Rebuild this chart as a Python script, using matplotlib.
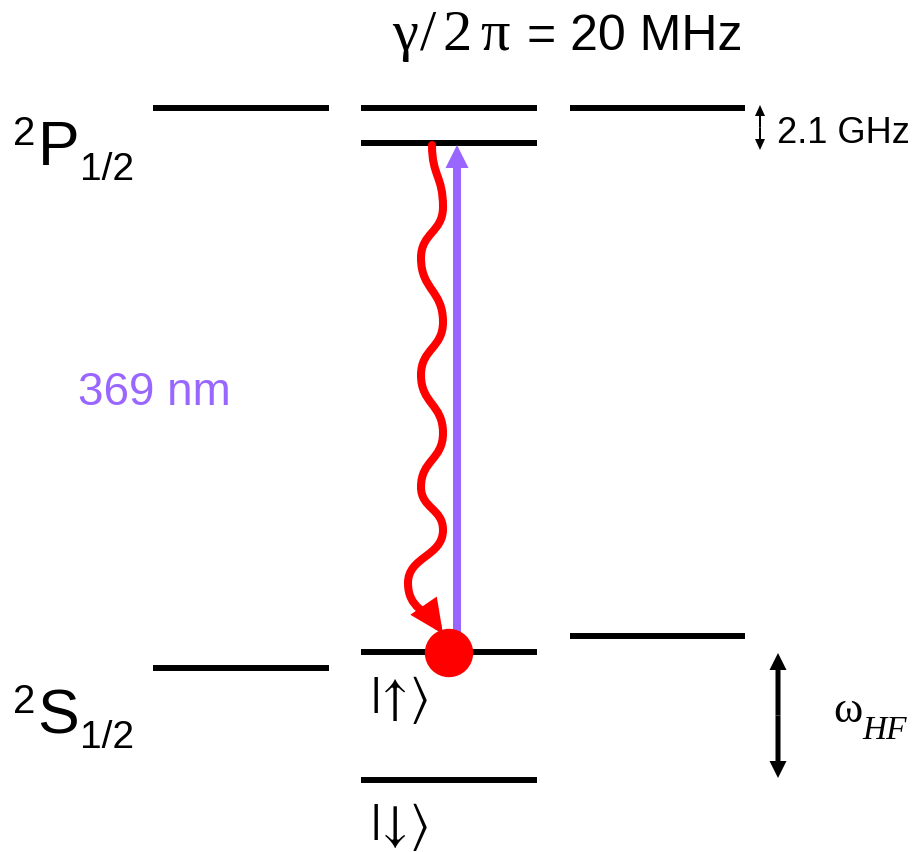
import numpy as np
import matplotlib.pyplot as plt
from matplotlib.path import Path
from matplotlib.patches import FancyArrowPatch, Circle

# level diagram in picture units (x right, y down)
col_names = ['left', 'mid', 'right']
col_x0 = [153, 361, 570]
col_x1 = [329, 537, 745]

level_col = [0, 1, 1, 2, 0, 1, 1, 2]
level_y = [108, 108, 143, 108, 668, 652, 780, 636]

# spontaneous emission (wavy) - extrema of the wiggle, last point = arrow tip
wave_x = [432, 443, 421, 443, 421, 443, 421, 443, 408, 443]
wave_y = [145, 207, 258, 322, 375, 433, 487, 530, 583, 634]

# 369 nm pump arrow
pump_x = 457
pump_y0, pump_y1 = 650, 145

atom_xy = (449, 653)
atom_r = 23.5

purple = '#9966ff'
red = '#ff0000'

fig = plt.figure(figsize=(9.16, 8.52), dpi=100)
ax = fig.add_axes([0, 0, 1, 1])
ax.set_xlim(0, 916)
ax.set_ylim(852, 0)
ax.axis('off')

# levels
for c, y in zip(level_col, level_y):
    ax.plot([col_x0[c], col_x1[c]], [y, y], color='black', lw=4.3,
            solid_capstyle='butt')

# pump arrow
ax.arrow(pump_x, pump_y0, 0, pump_y1 - pump_y0, width=8, head_width=23,
         head_length=23, length_includes_head=True, color=purple, lw=0,
         zorder=3)

# wavy decay as bezier path
verts = [(wave_x[0], wave_y[0])]
codes = [Path.MOVETO]
n = len(wave_x)
for i in range(n - 1):
    x0, y0 = wave_x[i], wave_y[i]
    x1, y1 = wave_x[i + 1], wave_y[i + 1]
    d = (y1 - y0) * 0.5
    c1 = (x0, y0 + d)
    if i == n - 2:
        c2 = (x1 - 0.45 * (x1 - x0), y1 - 0.45 * (y1 - y0))
    else:
        c2 = (x1, y1 - d)
    verts += [c1, c2, (x1, y1)]
    codes += [Path.CURVE4] * 3
wave = FancyArrowPatch(path=Path(verts, codes),
                       arrowstyle='-|>,head_length=15,head_width=7',
                       color=red, lw=5.8, zorder=4, joinstyle='miter')
ax.add_patch(wave)

ax.add_patch(Circle(atom_xy, atom_r, color=red, zorder=5))

# double arrows
def double_arrow(x, ya, yb, w, hw, hl):
    ym = (ya + yb) / 2
    for yend in (ya, yb):
        ax.arrow(x, ym, 0, yend - ym, width=w, head_width=hw, head_length=hl,
                 length_includes_head=True, color='black', lw=0)

double_arrow(760, 105, 150, 2, 10, 11)
double_arrow(778, 653, 778, 5, 17, 17)

sans = 'Liberation Sans'
serif = 'Liberation Serif'

# term labels
ax.text(13, 145, '2', family=sans, fontsize=29, va='baseline')
ax.text(38, 165, 'P', family=sans, fontsize=45, va='baseline')
ax.text(80, 180, '1/2', family=sans, fontsize=28, va='baseline')
ax.text(13, 713, '2', family=sans, fontsize=29, va='baseline')
ax.text(37, 734, 'S', family=sans, fontsize=45, va='baseline')
ax.text(80, 748, '1/2', family=sans, fontsize=28, va='baseline')

ax.text(78, 405, '369 nm', family=sans, fontsize=33, color=purple,
        va='baseline')
ax.text(777, 143, '2.1 GHz', family=sans, fontsize=26, va='baseline')

# title: gamma / 2 pi in a symbol-like serif, spaced out
for ch, xc in zip(['γ', '/', '2', 'π'], [405, 428, 457, 495]):
    ax.text(xc, 50, ch, family=serif, fontsize=42, va='baseline',
            ha='center')
ax.text(527, 50, '= 20 MHz', family=sans, fontsize=36, va='baseline')

ax.text(833, 722, 'ω', family=serif, fontsize=32, va='baseline')
ax.text(862, 739, 'HF', family=serif, style='italic', fontsize=24,
        va='baseline')

ax.text(370, 713, r'$|\!\uparrow\!\rangle$', math_fontfamily='stix',
        fontsize=37, va='baseline')
ax.text(370, 840, r'$|\!\downarrow\!\rangle$', math_fontfamily='stix',
        fontsize=37, va='baseline')

fig.savefig('out.png', dpi=100)
